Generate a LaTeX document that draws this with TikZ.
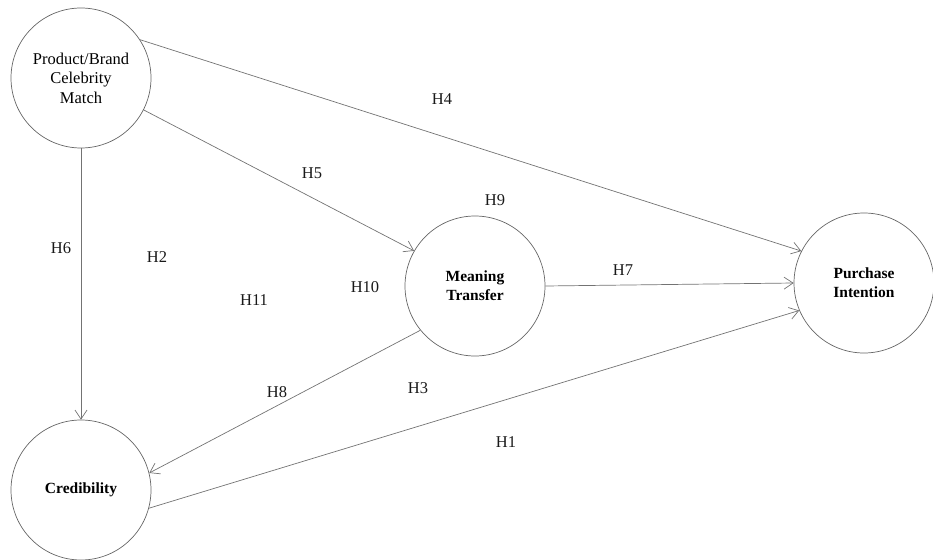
\documentclass[tikz,border=0pt]{standalone}
\usepackage{fontspec}
\setmainfont{Liberation Serif}
\usetikzlibrary{arrows.meta}
\begin{document}
\begin{tikzpicture}[x=1pt,y=-1pt,
  latent/.style={circle,draw=black!60,line width=0.7pt,minimum size=140pt,inner sep=0pt,align=center,font=\fontsize{16.5}{19.5}\selectfont},
  bold latent/.style={latent,font=\fontsize{15.5}{19}\selectfont\bfseries},
  path/.style={draw=black!55,line width=0.7pt,-{Straight Barb[length=9pt,width=12pt,line width=0.7pt]}},
  hlab/.style={font=\fontsize{16.5}{18}\selectfont,text=black!90}]
\useasboundingbox (0,0) rectangle (933,559);
\node[latent] (pbc) at (81,78) {Product/Brand\\Celebrity\\Match};
\node[bold latent] (cred) at (81,490) {Credibility};
\node[bold latent] (mt) at (475,286) {Meaning\\Transfer};
\node[bold latent] (pi) at (864,283) {Purchase\\Intention};
\draw[path] (pbc.33) -- (pi.153);
\draw[path] (pbc.-27) -- (mt.150);
\draw[path] (pbc.south) -- (cred.north);
\draw[path] (mt.east) -- (pi.west);
\draw[path] (mt.-141) -- (cred.14);
\draw[path] (cred.-15) -- (pi.-157);
\node[hlab] (h4) at (442,99) {H4};
\node[hlab] (h5) at (312,173) {H5};
\node[hlab] (h9) at (495,200) {H9};
\node[hlab] (h6) at (61,248) {H6};
\node[hlab] (h2) at (157,257) {H2};
\node[hlab] (h11) at (254,300) {H11};
\node[hlab] (h10) at (365,287) {H10};
\node[hlab] (h7) at (623,270) {H7};
\node[hlab] (h8) at (277,392) {H8};
\node[hlab] (h3) at (418,388) {H3};
\node[hlab] (h1) at (506,442) {H1};
\end{tikzpicture}
\end{document}
